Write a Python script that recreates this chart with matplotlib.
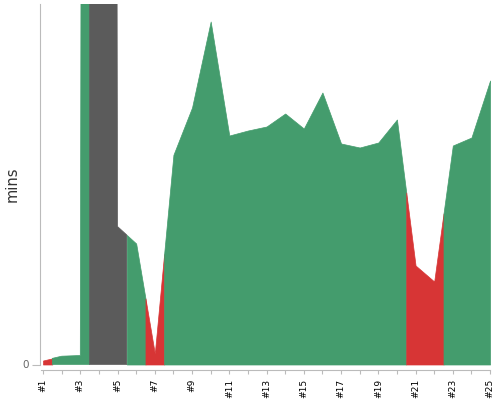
import numpy as np
import matplotlib
matplotlib.use("Agg")
import matplotlib.pyplot as plt

builds = list(range(1, 26))
durations = [0.4, 0.83, 0.9, 1000.0, 13.8, 12.1, 1.1, 20.97, 25.7, 34.3,
             22.9, 23.4, 23.8, 25.1, 23.6, 27.2, 22.1, 21.7, 22.2, 24.5,
             9.9, 8.3, 21.9, 22.7, 28.4]
statuses = ["failed", "success", "success", "aborted", "aborted", "success",
            "failed", "success", "success", "success", "success", "success",
            "success", "success", "success", "success", "success", "success",
            "success", "success", "failed", "failed", "success", "success",
            "success"]
tick_labels = ["#%d" % b for b in builds]

colors = {"success": "#449c6d", "failed": "#d73535", "aborted": "#5b5b5b"}

fig = plt.figure(figsize=(5, 4), dpi=100)
ax = fig.add_axes([39.5 / 500, (400 - 364.5) / 400, (491 - 39.5) / 500, (364.5 - 4) / 400])

x = np.array(builds, dtype=float)
y = np.array(durations, dtype=float)

# group consecutive builds with the same status into one filled region
runs = []
for b, st in zip(builds, statuses):
    if runs and runs[-1][0] == st:
        runs[-1][1].append(b)
    else:
        runs.append([st, [b]])

for st, bs in runs:
    a = max(bs[0] - 0.5, builds[0])
    c = min(bs[-1] + 0.5, builds[-1])
    xs = np.array([a] + bs + [c], dtype=float)
    ys = np.interp(xs, x, y)
    ax.fill_between(xs, 0, ys, facecolor=colors[st], edgecolor=colors[st],
                    linewidth=0.5)

ax.set_xlim(0.81, 25.05)
ax.set_ylim(0, 36.05)

for s in ["top", "right"]:
    ax.spines[s].set_visible(False)
ax.spines["left"].set_color("#bbbbbb")
ax.spines["bottom"].set_color("#bbbbbb")
ax.spines["bottom"].set_position(("outward", 4))
ax.spines["bottom"].set_bounds(0.9, 25)
ax.spines["left"].set_bounds(0, 36.05)

ax.set_xticks(builds)
ax.set_xticklabels([t if i % 2 == 0 else "" for i, t in enumerate(tick_labels)],
                   rotation=90, fontsize=6.6, color="black")
ax.tick_params(axis="x", length=3, width=0.8, color="#bbbbbb", pad=3)
ax.set_yticks([0])
ax.set_yticklabels(["0"], fontsize=7.5, color="#666666")
ax.tick_params(axis="y", length=6, width=0.8, color="#bbbbbb", pad=2)
ax.set_ylabel("mins", fontsize=10.5, color="#333333")
ax.yaxis.set_label_coords(-0.044, 0.5)

fig.savefig("out.png", dpi=100)
